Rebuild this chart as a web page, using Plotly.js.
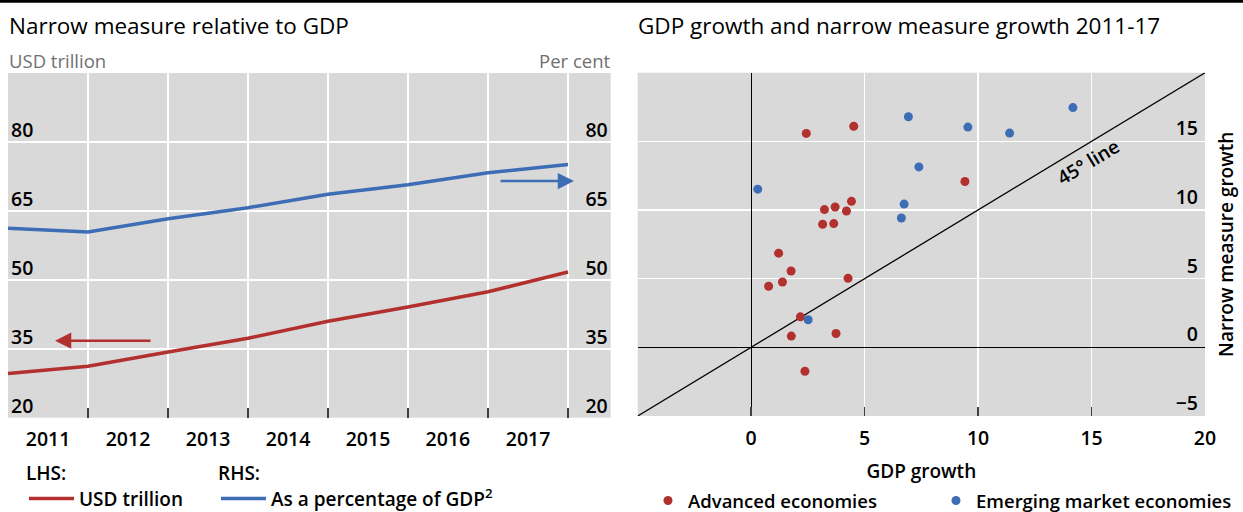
<!DOCTYPE html>
<html><head><meta charset="utf-8">
<script src="https://cdn.plot.ly/plotly-3.0.1.min.js"></script>
<style>html,body{margin:0;padding:0;background:#fff}#chart{width:1243px;height:512px}</style>
</head><body><div id="chart"></div>
<script>
// ---- data ----
const periodEnds = ['2010-12-31','2011-12-31','2012-12-31','2013-12-31','2014-12-31','2015-12-31','2016-12-31','2017-12-31'];
const yearLabels = ['2011','2012','2013','2014','2015','2016','2017',''];
const usdTrillion = [29.6, 31.2, 34.3, 37.3, 41.0, 44.1, 47.4, 51.7];
const pctOfGDP = [61.2, 60.4, 63.3, 65.7, 68.6, 70.7, 73.3, 75.1];
const leftTicks = [20, 35, 50, 65, 80];

const advGDP    = [2.43, 4.52, 9.42, 3.23, 3.70, 4.42, 4.20, 3.15, 3.64, 1.21, 1.76, 0.77, 1.38, 4.27, 2.17, 1.77, 3.74, 2.37];
const advNarrow = [15.58, 16.10, 12.08, 10.03, 10.22, 10.63, 9.93, 8.96, 9.01, 6.86, 5.56, 4.45, 4.76, 5.03, 2.22, 0.82, 1.01, -1.74];
const emeGDP    = [6.93, 9.55, 7.39, 0.29, 6.74, 6.62, 14.18, 11.39, 2.51];
const emeNarrow = [16.79, 16.04, 13.14, 11.52, 10.43, 9.42, 17.46, 15.60, 2.01];
const diagonal = [-5, 20];
const gdpTicks = [-5, 0, 5, 10, 15, 20];
const gdpTickText = ['', '0', '5', '10', '15', '20'];
const narrowTicks = [-5, 0, 5, 10, 15];

// ---- styles ----
const W = 1243, H = 512;
const px = x => x / W, py = y => 1 - y / H;
const RED = '#B2302D', BLUE = '#3D6DB5', BG = '#D9D9D9';
const FONT = 'Open Sans, Noto Sans, sans-serif';

const traces = [
  {x: periodEnds, y: usdTrillion, type: 'scatter', mode: 'lines', xaxis: 'x', yaxis: 'y',
   line: {color: RED, width: 3.5}, name: 'USD trillion', legend: 'legend'},
  {x: periodEnds, y: pctOfGDP, type: 'scatter', mode: 'lines', xaxis: 'x', yaxis: 'y2',
   line: {color: BLUE, width: 3.5}, name: 'As a percentage of GDP<sup>2</sup>', legend: 'legend3'},
  {x: diagonal, y: diagonal, type: 'scatter', mode: 'lines', xaxis: 'x2', yaxis: 'y3',
   line: {color: '#000', width: 1.3}, showlegend: false, hoverinfo: 'skip'},
  {x: advGDP, y: advNarrow, type: 'scatter', mode: 'markers', xaxis: 'x2', yaxis: 'y3',
   marker: {color: RED, size: 9}, name: 'Advanced economies', legend: 'legend2'},
  {x: emeGDP, y: emeNarrow, type: 'scatter', mode: 'markers', xaxis: 'x2', yaxis: 'y3',
   marker: {color: BLUE, size: 9}, name: 'Emerging market economies', legend: 'legend4'}
];

const tickFont = {family: FONT, size: 19.5, color: '#000', weight: 600};
const legFont = {family: FONT, size: 19, color: '#000', weight: 600};
const titleFont = {family: FONT, size: 22.5, color: '#000'};
const unitFont = {family: FONT, size: 18.5, color: '#707070'};

function lineLegend(x, title) {
  return {
    x: px(x), xanchor: 'left', y: py(455), yanchor: 'top', orientation: 'h',
    itemwidth: 45,
    title: {text: title, side: 'top', font: legFont},
    font: legFont, bgcolor: 'rgba(0,0,0,0)'
  };
}
function dotLegend(x) {
  return {
    x: px(x), xanchor: 'left', y: py(482), yanchor: 'top', orientation: 'h',
    font: {family: FONT, size: 18.5, color: '#000', weight: 600}, bgcolor: 'rgba(0,0,0,0)'
  };
}

const layout = {
  width: W, height: H, autosize: false,
  margin: {l: 0, r: 0, t: 0, b: 0, autoexpand: false},
  paper_bgcolor: '#fff', plot_bgcolor: BG,
  font: {family: FONT, color: '#000'},
  xaxis: {
    type: 'date', domain: [px(8), px(610.7)], anchor: 'y',
    range: ['2010-12-30 18:00', '2018-07-14'],
    tickmode: 'array', tickvals: periodEnds, ticktext: yearLabels,
    ticklabelshift: 40, ticklabelstandoff: 8, ticklabeloverflow: 'allow',
    showgrid: true, gridcolor: '#fff', gridwidth: 1.5,
    ticks: 'inside', ticklen: 10, tickwidth: 1.5, tickcolor: '#404040',
    showline: false, zeroline: false, tickfont: tickFont, automargin: false
  },
  yaxis: {
    domain: [py(417.7), py(73)], anchor: 'x', range: [20, 95],
    tickmode: 'array', tickvals: leftTicks,
    ticklabelposition: 'inside', ticklabelshift: -12, ticklabeloverflow: 'allow',
    showgrid: true, gridcolor: '#fff', gridwidth: 1.5, zeroline: false,
    showline: false, ticks: '', tickfont: tickFont, automargin: false
  },
  yaxis2: {
    overlaying: 'y', side: 'right', anchor: 'x', range: [20, 95],
    tickmode: 'array', tickvals: leftTicks,
    ticklabelposition: 'inside', ticklabelshift: -12, ticklabeloverflow: 'allow',
    showgrid: false, zeroline: false, showline: false, ticks: '',
    tickfont: tickFont, automargin: false
  },
  xaxis2: {
    domain: [px(637.7), px(1205)], anchor: 'y3', range: [-5, 20],
    tickmode: 'array', tickvals: gdpTicks, ticktext: gdpTickText, ticklabeloverflow: 'allow',
    showgrid: true, gridcolor: '#fff', gridwidth: 1.5,
    zeroline: true, zerolinecolor: '#000', zerolinewidth: 1.3,
    ticks: 'inside', ticklen: 9, tickwidth: 1.5, tickcolor: '#404040',
    showline: false, tickfont: tickFont, ticklabelstandoff: 8, automargin: false,
    title: {text: 'GDP growth', font: legFont, standoff: 15}
  },
  yaxis3: {
    domain: [py(416), py(72.7)], anchor: 'x2', side: 'right', range: [-5, 20],
    tickmode: 'array', tickvals: narrowTicks,
    ticklabelposition: 'inside', ticklabelshift: -13, ticklabelstandoff: 4, ticklabeloverflow: 'allow',
    showgrid: true, gridcolor: '#fff', gridwidth: 1.5,
    zeroline: true, zerolinecolor: '#000', zerolinewidth: 1.3,
    showline: false, ticks: '', tickfont: tickFont, automargin: false,
    title: {text: 'Narrow measure growth', font: legFont, standoff: 22}
  },
  legend: lineLegend(24, 'LHS:'),
  legend3: lineLegend(216, 'RHS:'),
  legend2: dotLegend(648),
  legend4: dotLegend(936),
  shapes: [
    {type: 'line', xref: 'paper', yref: 'paper', x0: 0, x1: 1, y0: py(1.3), y1: py(1.3),
     line: {color: '#000', width: 2.7}}
  ],
  annotations: [
    {xref: 'paper', yref: 'paper', x: px(7), y: py(25), xanchor: 'left', yanchor: 'middle',
     text: 'Narrow measure relative to GDP', showarrow: false, font: titleFont},
    {xref: 'paper', yref: 'paper', x: px(7), y: py(60), xanchor: 'left', yanchor: 'middle',
     text: 'USD trillion', showarrow: false, font: unitFont},
    {xref: 'paper', yref: 'paper', x: px(611.5), y: py(60), xanchor: 'right', yanchor: 'middle',
     text: 'Per cent', showarrow: false, font: unitFont},
    {xref: 'paper', yref: 'paper', x: px(636), y: py(25), xanchor: 'left', yanchor: 'middle',
     text: 'GDP growth and narrow measure growth 2011-17', showarrow: false, font: titleFont},
    {xref: 'x2', yref: 'y3', x: 14.85, y: 13.5, xanchor: 'center', yanchor: 'middle',
     text: '45° line', textangle: -31, showarrow: false, font: legFont},
    {xref: 'paper', yref: 'paper', x: px(55), y: py(340.7), ax: 97, ay: 0, text: '',
     showarrow: true, arrowhead: 2, arrowsize: 1.3, arrowwidth: 2.5, arrowcolor: RED, standoff: 0},
    {xref: 'paper', yref: 'paper', x: px(574), y: py(181), ax: -75, ay: 0, text: '',
     showarrow: true, arrowhead: 2, arrowsize: 1.3, arrowwidth: 2.5, arrowcolor: BLUE, standoff: 0}
  ]
};

Plotly.newPlot('chart', traces, layout, {staticPlot: true, displayModeBar: false});
</script></body></html>
